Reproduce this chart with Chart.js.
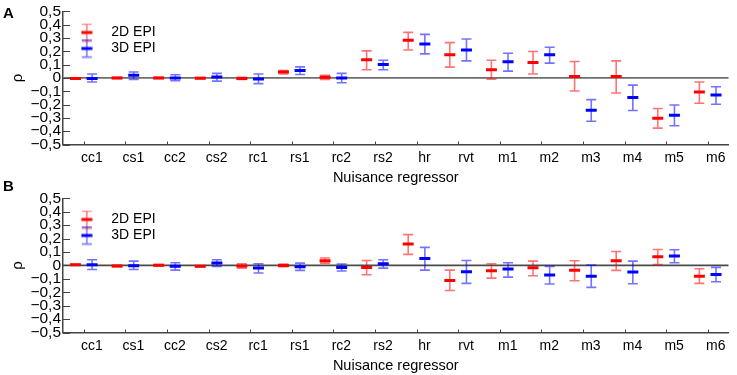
<!DOCTYPE html>
<html>
<head>
<meta charset="utf-8">
<script src="https://cdn.jsdelivr.net/npm/chart.js@4.4.1/dist/chart.umd.min.js"></script>
<style>
  html, body { margin: 0; padding: 0; background: #fff; }
  #wrap { position: relative; width: 737px; height: 375px; overflow: hidden; }
  .panel { position: absolute; left: 0; width: 737px; }
  .tag { position: absolute; left: 3px; font: bold 15px 'Liberation Sans', Arial, sans-serif; color: #000; }
</style>
</head>
<body>
<div id="wrap">
  <div class="panel" style="top:0;height:187px"><canvas id="cA" width="737" height="187"></canvas></div>
  <div class="panel" style="top:187px;height:188px"><canvas id="cB" width="737" height="188"></canvas></div>
  <div class="tag" style="top:4px">A</div>
  <div class="tag" style="top:177px">B</div>
</div>
<script>
// ---------- data ----------
const categories = ['cc1','cs1','cc2','cs2','rc1','rs1','rc2','rs2','hr','rvt','m1','m2','m3','m4','m5','m6'];
const seriesNames = ['2D EPI', '3D EPI'];
const yTickValues = [-0.5,-0.4,-0.3,-0.2,-0.1,0,0.1,0.2,0.3,0.4,0.5];

// Panel A
const a2dMean = [-0.004, 0.000, 0.000, -0.002, -0.004, 0.044, 0.004, 0.136, 0.282, 0.173, 0.061, 0.116, 0.011, 0.011, -0.302, -0.106];
const a2dLo   = [-0.008, -0.004, -0.004, -0.006, -0.012, 0.029, -0.011, 0.061, 0.210, 0.081, -0.009, 0.029, -0.098, -0.113, -0.377, -0.190];
const a2dHi   = [0.000, 0.004, 0.004, 0.002, 0.004, 0.056, 0.019, 0.203, 0.342, 0.265, 0.133, 0.198, 0.123, 0.128, -0.230, -0.031];
const a3dMean = [-0.004, 0.019, 0.000, 0.006, -0.009, 0.056, -0.001, 0.101, 0.255, 0.210, 0.121, 0.173, -0.243, -0.148, -0.280, -0.129];
const a3dLo   = [-0.031, -0.011, -0.021, -0.024, -0.043, 0.026, -0.036, 0.061, 0.180, 0.128, 0.051, 0.111, -0.325, -0.245, -0.359, -0.198];
const a3dHi   = [0.029, 0.044, 0.024, 0.034, 0.029, 0.083, 0.034, 0.133, 0.327, 0.292, 0.185, 0.230, -0.163, -0.054, -0.203, -0.066];

// Panel B
const b2dMean = [0.005, -0.005, 0.002, -0.007, -0.005, 0.000, 0.035, -0.015, 0.159, -0.112, -0.040, -0.017, -0.037, 0.035, 0.065, -0.080];
const b2dLo   = [0.001, -0.009, -0.002, -0.011, -0.020, -0.010, 0.017, -0.070, 0.082, -0.187, -0.095, -0.077, -0.114, -0.037, 0.007, -0.134];
const b2dHi   = [0.009, -0.001, 0.006, -0.003, 0.012, 0.010, 0.055, 0.037, 0.229, -0.035, 0.012, 0.032, 0.035, 0.104, 0.119, -0.025];
const b3dMean = [0.005, -0.002, -0.007, 0.017, -0.020, -0.010, -0.015, 0.012, 0.052, -0.047, -0.027, -0.072, -0.080, -0.050, 0.070, -0.067];
const b3dLo   = [-0.030, -0.030, -0.035, -0.007, -0.057, -0.037, -0.042, -0.020, -0.035, -0.134, -0.087, -0.139, -0.164, -0.137, 0.020, -0.122];
const b3dHi   = [0.042, 0.032, 0.020, 0.042, 0.012, 0.017, 0.010, 0.042, 0.134, 0.037, 0.020, -0.007, 0.002, 0.032, 0.117, -0.015];

// ---------- styling ----------
const FONT = "'Liberation Sans', Arial, Helvetica, sans-serif";
const RED = '#ff0000', BLUE = '#0000ff';
const RED_ERR = 'rgba(255,0,0,0.55)', BLUE_ERR = 'rgba(0,0,255,0.55)';
const GROUP_SHIFT = 0.2;

function makeIcon(center, err) {
  const c = document.createElement('canvas');
  c.width = 12; c.height = 20;
  const g = c.getContext('2d');
  g.strokeStyle = err; g.lineWidth = 1.5;
  g.beginPath();
  g.moveTo(6, 1.5); g.lineTo(6, 18.5);
  g.moveTo(1, 1.5); g.lineTo(11, 1.5);
  g.moveTo(1, 18.5); g.lineTo(11, 18.5);
  g.stroke();
  g.strokeStyle = center; g.lineWidth = 3;
  g.beginPath(); g.moveTo(0.5, 10); g.lineTo(11.5, 10); g.stroke();
  return c;
}
const icons = [makeIcon(RED, RED_ERR), makeIcon(BLUE, BLUE_ERR)];

const errorBarPlugin = {
  id: 'errorBars',
  beforeDatasetsDraw(chart, args, opts) {
    const { ctx, chartArea, scales: { x, y } } = chart;
    const y0 = y.getPixelForValue(0);
    ctx.save();
    ctx.strokeStyle = opts.zeroColor; ctx.lineWidth = opts.zeroWidth;
    ctx.beginPath(); ctx.moveTo(chartArea.left, y0); ctx.lineTo(chartArea.right, y0); ctx.stroke();
    ctx.strokeStyle = '#444'; ctx.lineWidth = 1;
    ctx.beginPath();
    y.ticks.forEach(t => {
      const py = Math.round(y.getPixelForValue(t.value)) + 0.5;
      ctx.moveTo(chartArea.left, py); ctx.lineTo(chartArea.left + 7, py);
    });
    x.ticks.forEach(t => {
      const px = Math.round(x.getPixelForValue(t.value)) + 0.5;
      ctx.moveTo(px, chartArea.bottom); ctx.lineTo(px, chartArea.bottom - 3);
    });
    ctx.stroke();
    chart.data.datasets.forEach(ds => {
      ctx.strokeStyle = ds.errColor; ctx.lineWidth = 1.6;
      ctx.beginPath();
      ds.data.forEach((p, i) => {
        const px = x.getPixelForValue(p.x);
        const yl = y.getPixelForValue(ds.errLo[i]);
        const yh = y.getPixelForValue(ds.errHi[i]);
        ctx.moveTo(px, yl); ctx.lineTo(px, yh);
        ctx.moveTo(px - 5, yl); ctx.lineTo(px + 5, yl);
        ctx.moveTo(px - 5, yh); ctx.lineTo(px + 5, yh);
      });
      ctx.stroke();
    });
    ctx.restore();
  },
  afterLayout(chart) {
    const lg = chart.legend;
    if (lg) { lg.left = chart.chartArea.left + 4.3; lg.top = 23.5; }
  }
};

function fmtTick(v) {
  if (Math.abs(v) < 1e-9) return '0';
  return (v < 0 ? '\u2212' : '') + Math.abs(v).toFixed(1).replace('.', ',');
}

function makeChart(id, m2, lo2, hi2, m3, lo3, hi3, zeroColor) {
  const pts = (arr, shift) => arr.map((v, i) => ({ x: i + 1 + shift, y: v }));
  return new Chart(document.getElementById(id), {
    type: 'scatter',
    data: {
      datasets: [
        { label: seriesNames[0], data: pts(m2, -GROUP_SHIFT), errLo: lo2, errHi: hi2, errColor: RED_ERR,
          pointStyle: 'line', pointRadius: 5.5, pointHoverRadius: 5.5, borderColor: RED, backgroundColor: RED, pointBorderWidth: 3, showLine: false },
        { label: seriesNames[1], data: pts(m3, GROUP_SHIFT), errLo: lo3, errHi: hi3, errColor: BLUE_ERR,
          pointStyle: 'line', pointRadius: 5.5, pointHoverRadius: 5.5, borderColor: BLUE, backgroundColor: BLUE, pointBorderWidth: 3, showLine: false }
      ]
    },
    options: {
      responsive: false, animation: false, devicePixelRatio: 1,
      layout: { padding: { left: 0, right: 2, top: 0, bottom: 0 } },
      plugins: {
        tooltip: { enabled: false },
        errorBars: { zeroColor: zeroColor, zeroWidth: 1.8 },
        legend: {
          position: 'chartArea', align: 'start',
          labels: {
            usePointStyle: true, pointStyleWidth: 35, padding: 2, color: '#000',
            font: { family: FONT, size: 14 },
            generateLabels: (chart) => chart.data.datasets.map((ds, i) => ({
              text: ds.label, pointStyle: icons[i], datasetIndex: i, hidden: false,
              lineWidth: 0, strokeStyle: 'rgba(0,0,0,0)', fillStyle: 'rgba(0,0,0,0)', fontColor: '#000'
            }))
          }
        }
      },
      scales: {
        x: {
          type: 'linear', min: 0.5, max: 16.5,
          afterFit: (s) => { s.height = 42.5; },
          afterBuildTicks: (s) => { s.ticks = categories.map((c, i) => ({ value: i + 1 })); },
          grid: { display: false, drawTicks: false },
          border: { display: true, color: '#444', width: 1.5 },
          ticks: {
            autoSkip: false, maxRotation: 0, minRotation: 0,
            labelOffset: 8, padding: 5, color: '#000', font: { family: FONT, size: 14 },
            callback: (v) => categories[Math.round(v) - 1] || ''
          },
          title: { display: true, text: 'Nuisance regressor', color: '#000', font: { family: FONT, size: 14.5 }, padding: { top: 2, bottom: 0 } }
        },
        y: {
          type: 'linear', min: -0.5, max: 0.5,
          afterFit: (s) => { s.width = 63; },
          afterBuildTicks: (s) => { s.ticks = yTickValues.map(v => ({ value: v })); },
          grid: { display: false, drawTicks: false },
          border: { display: true, color: '#444', width: 1.5 },
          ticks: { autoSkip: false, padding: 2, color: '#000', font: { family: FONT, size: 15.5 }, callback: fmtTick },
          title: { display: true, text: 'ρ', color: '#000', font: { family: FONT, size: 15 }, padding: { top: 9, bottom: 0 } }
        }
      }
    },
    plugins: [errorBarPlugin]
  });
}

makeChart('cA', a2dMean, a2dLo, a2dHi, a3dMean, a3dLo, a3dHi, '#6e6e6e');
makeChart('cB', b2dMean, b2dLo, b2dHi, b3dMean, b3dLo, b3dHi, '#4a4a4a');
</script>
</body>
</html>
